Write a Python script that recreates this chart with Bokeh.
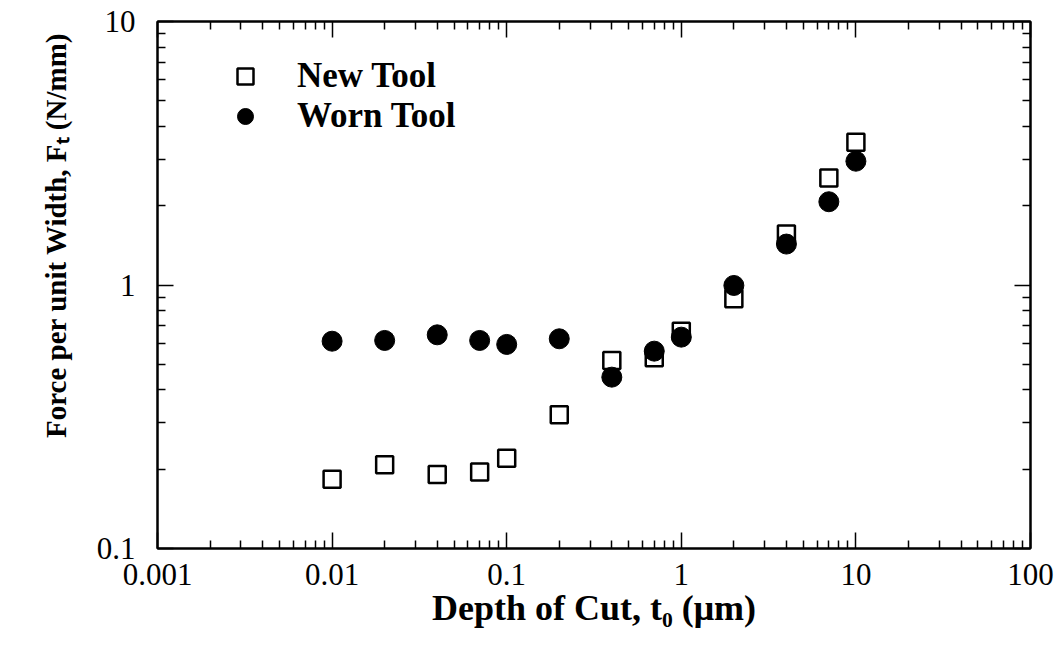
import math
from bokeh.plotting import figure
from bokeh.models import (LogAxis, FixedTicker, CustomJSTickFormatter, Title,
                          Legend, LegendItem)
from bokeh.embed import file_html
from bokeh.resources import INLINE

# ---- data ----
depth_um = [0.01, 0.02, 0.04, 0.07, 0.1, 0.2, 0.4, 0.7, 1.0, 2.0, 4.0, 7.0, 10.0]
new_tool = [0.183, 0.208, 0.191, 0.195, 0.220, 0.322, 0.517, 0.529, 0.668, 0.887, 1.56, 2.55, 3.48]
worn_tool = [0.612, 0.616, 0.647, 0.616, 0.595, 0.625, 0.447, 0.561, 0.634, 0.996, 1.43, 2.07, 2.95]

x_major = [0.001, 0.01, 0.1, 1, 10, 100]
y_major = [0.1, 1, 10]

x_title = "Depth of Cut, t\u2080 (\u03bcm)"
y_title = "Force per unit Width, F\u209c (N/mm)"
series_names = ["New Tool", "Worn Tool"]

SERIF = "Liberation Serif"

def minors(majors):
    out = []
    for m in majors[:-1]:
        out += [m * k for k in range(2, 10)]
    return out

p = figure(width=1064, height=647, x_axis_type="log", y_axis_type="log",
           x_range=(x_major[0], x_major[-1]), y_range=(y_major[0], y_major[-1]),
           output_backend="svg", toolbar_location=None,
           min_border_left=157, min_border_right=34, min_border_top=21,
           min_border_bottom=99)
p.xgrid.visible = False
p.ygrid.visible = False
p.outline_line_color = "black"
p.outline_line_width = 2
p.background_fill_color = "white"
p.border_fill_color = "white"

fmt = CustomJSTickFormatter(code="return tick.toString();")
blank = CustomJSTickFormatter(code="return '';")

def style_axis(ax, labels=True):
    ax.axis_line_color = "black"
    ax.axis_line_width = 2
    ax.major_tick_in = 16
    ax.major_tick_out = 0
    ax.minor_tick_in = 8
    ax.minor_tick_out = 0
    ax.major_tick_line_width = 1.5
    ax.minor_tick_line_width = 1.5
    ax.major_tick_line_color = "black"
    ax.minor_tick_line_color = "black"
    ax.major_label_text_font = SERIF
    ax.major_label_text_color = "black"
    if labels:
        ax.major_label_text_font_size = "31px"
        ax.formatter = fmt
    else:
        ax.major_label_text_font_size = "10px"
        ax.formatter = blank
        ax.major_label_standoff = 0

xa = p.xaxis[0]
xa.ticker = FixedTicker(ticks=x_major, minor_ticks=minors(x_major))
style_axis(xa)
xa.major_label_standoff = 15
xa.axis_label = x_title
xa.axis_label_text_font = SERIF
xa.axis_label_text_font_style = "bold"
xa.axis_label_text_font_size = "36px"
xa.axis_label_text_color = "black"
xa.axis_label_standoff = 0

ya = p.yaxis[0]
ya.ticker = FixedTicker(ticks=y_major, minor_ticks=minors(y_major))
style_axis(ya)
ya.major_label_standoff = 22

top = LogAxis(ticker=FixedTicker(ticks=x_major, minor_ticks=minors(x_major)))
style_axis(top, labels=False)
p.add_layout(top, "above")
right = LogAxis(ticker=FixedTicker(ticks=y_major, minor_ticks=minors(y_major)))
style_axis(right, labels=False)
p.add_layout(right, "right")

r_new = p.scatter(depth_um, new_tool, marker="square", size=17,
                  fill_color="white", line_color="black", line_width=2.5)
r_worn = p.scatter(depth_um, worn_tool, marker="circle", size=20,
                   fill_color="black", line_color="black", line_width=1)

legend = Legend(items=[LegendItem(label=series_names[0], renderers=[r_new]),
                       LegendItem(label=series_names[1], renderers=[r_worn])],
                location=(66, 412), padding=0, margin=0, spacing=0,
                glyph_width=44, glyph_height=40, label_height=40,
                label_standoff=30, border_line_color=None,
                background_fill_alpha=0,
                label_text_font=SERIF, label_text_font_style="bold",
                label_text_font_size="35px", label_text_color="black")
p.add_layout(legend)

ytitle = Title(text=y_title, align="right", offset=11, standoff=40,
               vertical_align="top",
               text_font=SERIF, text_font_style="bold",
               text_font_size="29px", text_color="black")
p.add_layout(ytitle, "left")

open("out.html", "w").write(file_html(p, INLINE))
